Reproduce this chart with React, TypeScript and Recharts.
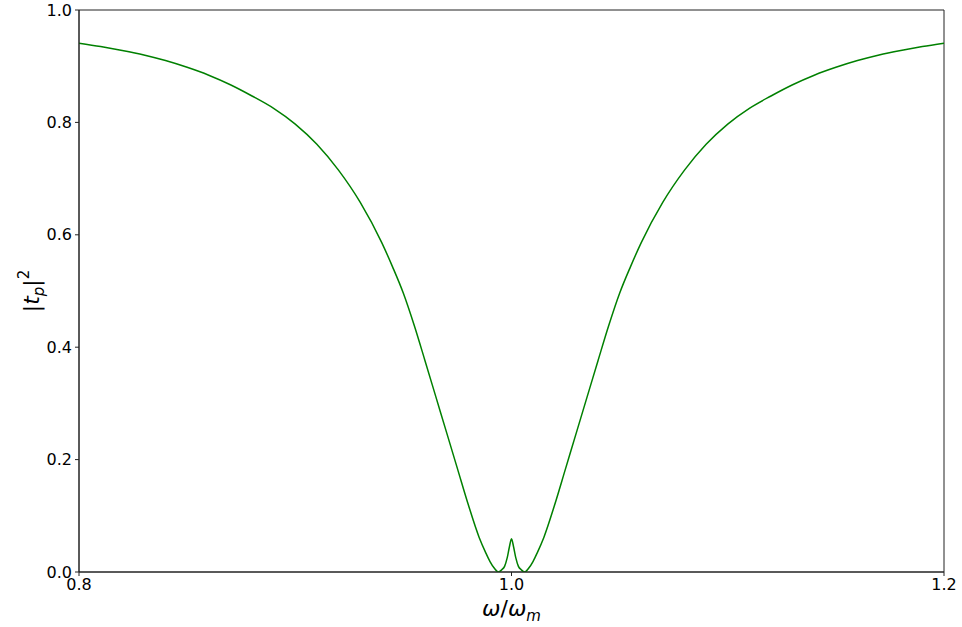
import React from "react";
import { LineChart, Line, XAxis, YAxis, ReferenceArea } from "recharts";

// Normalized probe frequency ω/ω_m
const omega = [
  0.8, 0.81, 0.82, 0.83, 0.84, 0.85, 0.86, 0.87, 0.88, 0.89, 0.9, 0.91, 0.92,
  0.93, 0.94, 0.945, 0.95, 0.955, 0.96, 0.965, 0.97, 0.975, 0.98, 0.985, 0.988,
  0.99, 0.992, 0.9939, 0.9955, 0.9968, 0.998, 0.999, 1.0, 1.001, 1.002, 1.0032,
  1.0045, 1.0061, 1.008, 1.01, 1.012, 1.015, 1.02, 1.025, 1.03, 1.035, 1.04,
  1.045, 1.05, 1.055, 1.06, 1.07, 1.08, 1.09, 1.1, 1.11, 1.12, 1.13, 1.14,
  1.15, 1.16, 1.17, 1.18, 1.19, 1.2,
];

// Probe transmission |t_p|^2
const transmission = [
  0.941, 0.935, 0.928, 0.92, 0.91, 0.898, 0.884, 0.867, 0.847, 0.825, 0.797,
  0.761, 0.715, 0.658, 0.586, 0.543, 0.496, 0.439, 0.376, 0.312, 0.248, 0.184,
  0.12, 0.062, 0.035, 0.019, 0.007, 0.0, 0.004, 0.01, 0.025, 0.044, 0.059,
  0.044, 0.025, 0.01, 0.004, 0.0, 0.007, 0.019, 0.035, 0.062, 0.12, 0.184,
  0.248, 0.312, 0.376, 0.439, 0.496, 0.543, 0.586, 0.658, 0.715, 0.761, 0.797,
  0.825, 0.847, 0.867, 0.884, 0.898, 0.91, 0.92, 0.928, 0.935, 0.941,
];

const xTicks = [0.8, 1.0, 1.2];
const yTicks = [0, 0.2, 0.4, 0.6, 0.8, 1.0];

const data = omega.map((w, i) => ({ w, t: transmission[i] }));

const FONT = "DejaVu Sans, sans-serif";
const tickStyle = { fill: "#000", fontSize: 16, fontFamily: FONT };

const XLabel = (props: any) => {
  const vb = props.viewBox || { x: 79, width: 865 };
  const cx = vb.x + vb.width / 2;
  return (
    <text x={cx} y={616} textAnchor="middle" fontFamily={FONT} fontSize={22} fill="#000">
      <tspan fontStyle="italic">ω</tspan>
      <tspan>/</tspan>
      <tspan fontStyle="italic">ω</tspan>
      <tspan fontStyle="italic" fontSize={15} dy={5}>m</tspan>
    </text>
  );
};

const YLabel = () => {
  const x = 39;
  const y = 291;
  return (
    <text
      x={x}
      y={y}
      transform={`rotate(-90, ${x}, ${y})`}
      textAnchor="middle"
      fontFamily={FONT}
      fontSize={22}
      fill="#000"
    >
      <tspan>|</tspan>
      <tspan fontStyle="italic">t</tspan>
      <tspan fontStyle="italic" fontSize={15} dy={5}>p</tspan>
      <tspan dy={-5}>|</tspan>
      <tspan fontSize={15} dy={-10}>2</tspan>
    </text>
  );
};

export default function App() {
  return (
    <div style={{ position: "absolute", left: 0, top: 0, background: "#fff" }}>
      <LineChart
        width={962}
        height={627}
        data={data}
        margin={{ top: 10, right: 18, left: 0, bottom: 0 }}
      >
        <XAxis
          dataKey="w"
          type="number"
          domain={[0.8, 1.2]}
          ticks={xTicks}
          tickFormatter={(v: number) => v.toFixed(1)}
          tick={tickStyle}
          tickSize={4}
          tickMargin={3}
          height={55}
          stroke="#222"
          allowDataOverflow
          label={<XLabel />}
        />
        <YAxis
          type="number"
          domain={[0, 1]}
          ticks={yTicks}
          tickFormatter={(v: number) => v.toFixed(1)}
          tick={tickStyle}
          tickSize={4}
          tickMargin={3}
          width={79}
          stroke="#222"
          allowDataOverflow
          label={<YLabel />}
        />
        {/* plot frame */}
        <ReferenceArea
          x1={0.8}
          x2={1.2}
          y1={0}
          y2={1}
          fill="none"
          fillOpacity={0}
          stroke="#222"
          strokeWidth={1}
          ifOverflow="visible"
        />
        <Line
          type="monotone"
          dataKey="t"
          stroke="#008000"
          strokeWidth={1.5}
          dot={false}
          isAnimationActive={false}
        />
      </LineChart>
    </div>
  );
}
